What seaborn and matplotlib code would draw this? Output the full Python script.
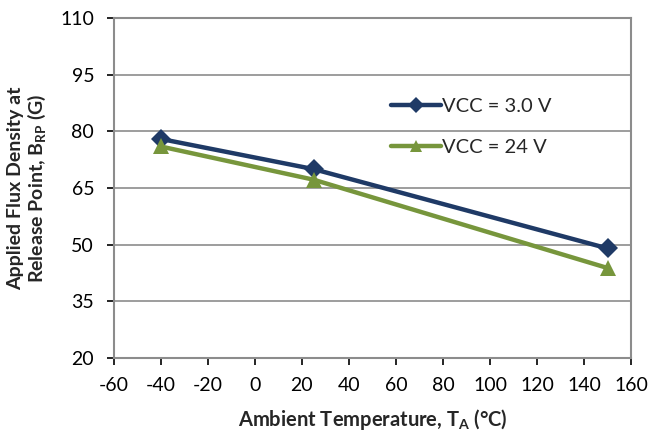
import matplotlib
matplotlib.use("Agg")
import matplotlib.pyplot as plt
import seaborn as sns
import pandas as pd

# Release-point flux density vs ambient temperature
temperature = [-40, 25, 150]
vcc_3v0 = [78.0, 70.0, 49.0]
vcc_24v = [76.0, 67.2, 43.8]
series_labels = ["VCC = 3.0 V", "VCC = 24 V"]
x_ticks = [-60, -40, -20, 0, 20, 40, 60, 80, 100, 120, 140, 160]
y_ticks = [20, 35, 50, 65, 80, 95, 110]

sns.set_theme(style="white")
plt.rcParams["font.family"] = ["Lato", "DejaVu Sans"]
plt.rcParams["axes.unicode_minus"] = False
plt.rcParams["mathtext.fontset"] = "custom"
plt.rcParams["mathtext.rm"] = "Lato:bold"
plt.rcParams["mathtext.bf"] = "Lato:bold"
plt.rcParams["mathtext.it"] = "Lato:bold"

fig = plt.figure(figsize=(6.49, 4.34), dpi=100)
ax = fig.add_axes([0.175, 0.175, 0.798, 0.7835])

df = pd.DataFrame({
    "T": temperature * 2,
    "B": vcc_3v0 + vcc_24v,
    "series": [series_labels[0]] * 3 + [series_labels[1]] * 3,
})

colors = {series_labels[0]: "#1F3A66", series_labels[1]: "#77963C"}
markers = {series_labels[0]: "D", series_labels[1]: "^"}

for lab in series_labels:
    sub = df[df["series"] == lab]
    sns.lineplot(data=sub, x="T", y="B", ax=ax, color=colors[lab],
                 marker=markers[lab], markersize=10 if lab == series_labels[0] else 11,
                 markeredgewidth=0, linewidth=3.2, label=lab, zorder=3)

ax.set_xlim(-60, 160)
ax.set_ylim(20, 110)
ax.set_xticks(x_ticks)
ax.set_yticks(y_ticks)
ax.tick_params(axis="both", labelsize=14, colors="black", length=5,
               width=1.2, direction="out", bottom=True, left=True)
ax.tick_params(axis="x", pad=9)
ax.tick_params(axis="y", pad=9)
for t in ax.xaxis.get_ticklines() + ax.yaxis.get_ticklines():
    t.set_color("#8C8C8C")
ax.yaxis.grid(True, color="#8C8C8C", linewidth=1.2)
ax.xaxis.grid(False)
for s in ax.spines.values():
    s.set_color("#8C8C8C")
    s.set_linewidth(1.5)

ax.set_xlabel(r"Ambient Temperature, T$_{\mathbf{A}}$ (°C)", fontsize=14.5,
              fontweight="bold", labelpad=9)
ax.set_ylabel("Applied Flux Density at\n" + r"Release Point, B$_{\mathbf{RP}}$ (G)",
              fontsize=14, fontweight="bold", labelpad=9, linespacing=1.1)

leg = ax.legend(loc="upper left", bbox_to_anchor=(0.52, 0.79), frameon=False,
                fontsize=14.5, handlelength=2.5, handletextpad=0.05,
                labelspacing=1.2, borderaxespad=0, markerscale=0.85)

fig.savefig("out.png", dpi=100)
